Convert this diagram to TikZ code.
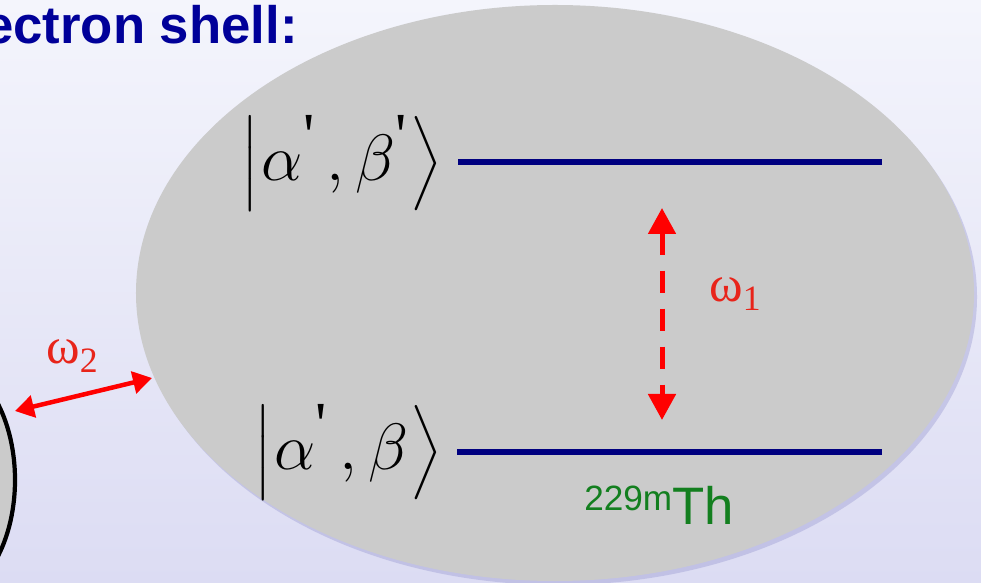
\documentclass[tikz,border=0pt]{standalone}
\usepackage{amsmath}
\usepackage{fontspec}
\setmainfont{Liberation Sans}
\newfontfamily\greekfont{Liberation Serif}
\usetikzlibrary{arrows.meta,positioning,shadows}
\definecolor{Navy}{HTML}{000080}
\definecolor{TitleBlue}{HTML}{000099}
\definecolor{ShellGray}{HTML}{CBCBCB}
\definecolor{Signal}{HTML}{FF0000}
\definecolor{LabelRed}{HTML}{E8241A}
\definecolor{Leaf}{HTML}{137F1F}
\definecolor{BgTop}{HTML}{F4F5FC}
\definecolor{BgBottom}{HTML}{DCDCF3}
\newcommand{\tick}{^{\text{\greekfont\textquotesingle}}}
\newcommand{\ketopen}{\mathopen{\vcenter{\hbox{\scalebox{0.8}{$\left|\vcenter to 40pt{}\right.$}}}}}
\newcommand{\ketclose}{\mathclose{\vcenter{\hbox{\scalebox{0.8}{$\left.\vcenter to 40pt{}\right\rangle$}}}}}

\begin{document}
\begin{tikzpicture}[x=0.2mm,y=-0.2mm,every node/.style={inner sep=0pt},
    level/.style={Navy,line width=1.2mm},
    ket/.style={anchor=east,font=\fontsize{34}{44}\selectfont},
    bigtip/.tip={Triangle[length=5.2mm,width=5.4mm]},
    smalltip/.tip={Triangle[length=3.8mm,width=4.4mm]}]
      \useasboundingbox (0,0) rectangle (981,583);
      \clip (0,0) rectangle (981,583);
      \shade[top color=BgTop,bottom color=BgBottom] (0,0) rectangle (981,583);
      
      \fill[ShellGray,drop shadow={shadow xshift=0.6mm,shadow yshift=-0.8mm,fill=black!45!blue!40,opacity=0.4}] (555,293) ellipse [x radius=83.8mm,y radius=57.6mm];
      
      \draw[black,line width=2.4pt,fill=ShellGray] (-60,480) ellipse [x radius=15mm,y radius=24mm];
      
      \node[anchor=base east,text=TitleBlue,font=\bfseries\fontsize{30}{36}\selectfont] (title) at (298,44) {ectron shell:};
      
      \node[ket] (upket) at (443,163) {\scalebox{1.5}{$\ketopen\alpha\tick\,,\beta\tick\ketclose$}};
      \node[ket] (lowket) at (443,452) {\scalebox{1.5}{$\ketopen\alpha\tick\,,\beta\ketclose$}};
      
      \coordinate (upstart) at (458,162);
      \coordinate (upend) at (882,162);
      \coordinate (lowstart) at (457,452);
      \coordinate (lowend) at (882,452);
      \draw[level] (upstart) -- (upend);
      \draw[level] (lowstart) -- (lowend);
      
      \coordinate (wtop) at (662,208);
      \coordinate (wbot) at (662,420);
      \draw[bigtip-bigtip,Signal,line width=1mm,dash pattern=on 4.4mm off 3.2mm] (wtop) -- (wbot);
      \node[anchor=base west,text=LabelRed,font=\greekfont\fontsize{29}{29}\selectfont] (omega1) at (709,302) {ω\textsubscript{1}};
      
      \coordinate (wleft) at (15,411);
      \coordinate (wright) at (152,378);
      \draw[smalltip-smalltip,Signal,line width=0.9mm] (wleft) -- (wright);
      \node[anchor=base west,text=LabelRed,font=\greekfont\fontsize{29}{29}\selectfont] (omega2) at (46,364) {ω\textsubscript{2}};
      
      \node[anchor=base west,text=Leaf,font=\fontsize{30}{30}\selectfont] (isotope) at (584,525) {\raisebox{8pt}{\fontsize{20}{20}\selectfont 229m}Th};
    \end{tikzpicture}
\end{document}
